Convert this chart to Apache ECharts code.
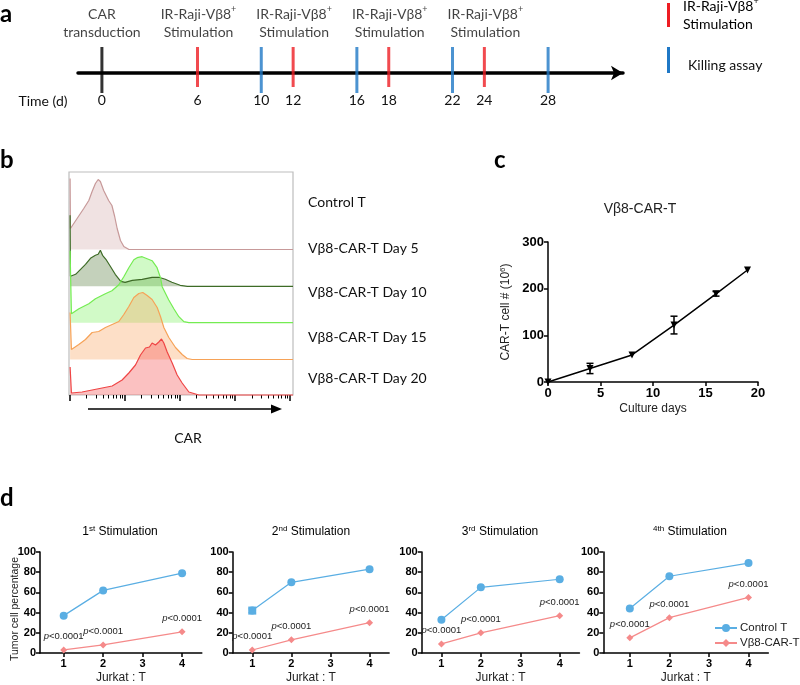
<!DOCTYPE html>
<html>
<head>
<meta charset="utf-8">
<script src="https://cdn.jsdelivr.net/npm/echarts@6/dist/echarts.min.js"></script>
<style>
html, body { margin: 0; padding: 0; background: #fff; }
#main { width: 800px; height: 685px; }
</style>
</head>
<body>
<div id="main"></div>
<script>
// panel a: timeline (days)
const timelineDays = [0, 6, 10, 12, 16, 18, 22, 24, 28]
const transductionDays = [0]
const stimulationDays = [6, 12, 18, 24]
const killingDays = [10, 16, 22, 28]

// panel b: CAR histograms, [log decade, height]
const histNames = ['Control T', 'Vβ8-CAR-T Day 5', 'Vβ8-CAR-T Day 10', 'Vβ8-CAR-T Day 15', 'Vβ8-CAR-T Day 20']
const histControl = [[0, 71], [0.006, 21], [0.127, 31], [0.248, 41], [0.34, 49], [0.4, 58], [0.46, 66], [0.51, 70], [0.55, 68], [0.61, 59], [0.7, 49], [0.76, 44], [0.81, 33], [0.855, 21], [0.915, 9], [0.976, 3], [1.07, 0], [4.05, 0]]
const histDay5 = [[0, 71], [0.006, 10], [0.1, 12], [0.19, 17], [0.28, 22], [0.37, 28], [0.46, 31], [0.51, 32], [0.55, 36], [0.59, 31], [0.65, 27], [0.73, 20], [0.82, 12], [0.92, 5], [1.0, 4], [1.13, 6], [1.31, 7], [1.49, 9], [1.61, 9], [1.73, 7], [1.85, 4], [2.0, 1], [2.13, 0], [4.05, 0]]
const histDay10 = [[0, 72], [0.024, 9], [0.16, 14], [0.34, 19], [0.46, 24], [0.64, 29], [0.76, 32], [0.885, 38], [0.976, 46], [1.067, 55], [1.158, 63], [1.218, 65], [1.309, 66], [1.4, 64], [1.49, 62], [1.58, 55], [1.642, 45], [1.673, 36], [1.7, 33], [1.79, 23], [1.885, 14], [1.976, 6], [2.067, 1], [2.158, 0], [4.05, 0]]
const histDay15 = [[0, 47], [0.024, 10], [0.158, 15], [0.279, 20], [0.4, 27], [0.52, 28], [0.642, 32], [0.764, 35], [0.885, 38], [0.976, 45], [1.067, 53], [1.158, 62], [1.248, 66], [1.321, 67], [1.4, 64], [1.49, 60], [1.582, 52], [1.642, 43], [1.703, 32], [1.794, 22], [1.915, 12], [2.036, 5], [2.127, 1], [2.218, 0], [4.05, 0]]
const histDay20 = [[0, 28], [0.024, 2], [0.218, 3], [0.4, 5], [0.582, 7], [0.764, 9], [0.945, 15], [1.067, 22], [1.188, 30], [1.279, 40], [1.37, 47], [1.442, 48], [1.49, 52], [1.552, 50], [1.612, 53], [1.661, 56], [1.703, 52], [1.764, 43], [1.855, 32], [1.945, 20], [2.036, 12], [2.158, 3], [2.279, 1], [2.339, 0], [4.05, 0]]
const decadeTicks = [0, 1, 2, 3, 4]
const minorMultipliers = [2, 3, 4, 5, 6, 7, 8, 9]

// panel c: expansion
const cultureDays = [0, 4, 8, 12, 16, 19]
const carTCells = [0, 29, 58, 122, 189, 240]
const carTErr = [0, 11, 0, 19, 5, 0]

// panel d: killing assay
const ratios = [1, 2, 4]
const ratioTicks = [1, 2, 3, 4]
const stimOrdinal = [['1', 'st'], ['2', 'nd'], ['3', 'rd'], ['', '4th']]
const controlT = [[37, 62, 79], [42, 70, 83], [33, 65, 73], [44, 76, 89]]
const controlErr = [[0, 0, 0], [2.5, 0, 0], [0, 0, 0], [0, 0, 0]]
const vb8CarT = [[3, 8, 21], [3, 13, 30], [9, 20, 37], [15, 35, 55]]
const pLabel = 'p<0.0001'

const LATO = 'Lato, "Open Sans", sans-serif'
const ARIAL = '"Liberation Sans", Arial, sans-serif'
const RED = '#ee1d23'
const BLUE = '#1f78c6'
const D_BLUE = '#5aaee3'
const D_RED = '#f58a8a'

const chart = echarts.init(document.getElementById('main'), null, { renderer: 'canvas' })

function errorBar(color, width, cap) {
    return function (params, api) {
        const x = api.value(0), y = api.value(1), e = api.value(2)
        const top = api.coord([x, y + e])
        const bot = api.coord([x, y - e])
        const style = { stroke: color, lineWidth: width }
        return {
            type: 'group',
            children: [
                { type: 'line', shape: { x1: top[0], y1: top[1], x2: bot[0], y2: bot[1] }, style },
                { type: 'line', shape: { x1: top[0] - cap, y1: top[1], x2: top[0] + cap, y2: top[1] }, style },
                { type: 'line', shape: { x1: bot[0] - cap, y1: bot[1], x2: bot[0] + cap, y2: bot[1] }, style },
            ],
        }
    }
}

const grid = []
const xAxis = []
const yAxis = []
const series = []
const graphic = []

// ---------- panel a ----------
// grid bottom is the time line
grid.push({ left: 78, top: 23, width: 545, height: 50 })
xAxis.push({
    gridIndex: 0, type: 'value', min: -1.5, max: 32.7, position: 'bottom',
    axisLine: { symbol: ['none', 'arrow'], symbolSize: [11, 12], lineStyle: { color: '#000', width: 3.5 } },
    axisTick: { show: false }, splitLine: { show: false },
    axisLabel: { customValues: timelineDays, margin: 20, fontSize: 14, fontFamily: LATO, color: '#111' },
})
yAxis.push({ gridIndex: 0, type: 'value', min: 0, max: 1, show: false })

const stimRich = {
    a: { fontSize: 14, fontFamily: LATO, color: '#111', lineHeight: 18 },
    s: { fontSize: 9, fontFamily: LATO, color: '#111', lineHeight: 10, verticalAlign: 'top' },
}
series.push({
    type: 'scatter', xAxisIndex: 0, yAxisIndex: 0, silent: true, z: 3,
    data: transductionDays.map(d => [d, 0]),
    symbol: 'rect', symbolSize: [3, 46], symbolOffset: [0, -3], itemStyle: { color: '#000' },
    label: { show: true, position: 'top', distance: 6, formatter: '{a|CAR}\n{a|transduction}', rich: stimRich },
})
series.push({
    type: 'scatter', xAxisIndex: 0, yAxisIndex: 0, silent: true, z: 3,
    data: stimulationDays.map(d => [d, 0]),
    symbol: 'rect', symbolSize: [3, 40], symbolOffset: [0, -6], itemStyle: { color: RED },
    label: { show: true, position: 'top', distance: 6, offset: [1, 0], formatter: '{a|IR-Raji-Vβ8}{s|+}\n{a|Stimulation}', rich: stimRich },
})
series.push({
    type: 'scatter', xAxisIndex: 0, yAxisIndex: 0, silent: true, z: 3,
    data: killingDays.map(d => [d, 0]),
    symbol: 'rect', symbolSize: [3, 46], symbolOffset: [0, -3], itemStyle: { color: BLUE },
})
graphic.push(
    { type: 'text', left: 0, top: 2, style: { text: 'a', font: 'bold 24px ' + LATO, fill: '#000' } },
    { type: 'text', x: 43, y: 101, style: { text: 'Time (d)', font: '14px ' + LATO, fill: '#111', align: 'center', verticalAlign: 'middle' } },
    { type: 'rect', shape: { x: 667, y: 3, width: 3, height: 24 }, style: { fill: RED } },
    { type: 'rect', shape: { x: 667, y: 47, width: 3, height: 26 }, style: { fill: BLUE } },
    { type: 'text', x: 683, y: 15, style: { text: '{a|IR-Raji-Vβ8}{s|+}\n{a|Stimulation}', rich: stimRich, verticalAlign: 'middle' } },
    { type: 'text', x: 688, y: 65, style: { text: 'Killing assay', font: '14px ' + LATO, fill: '#111', verticalAlign: 'middle' } }
)

// ---------- panel b ----------
const histLeft = 69, histWidth = 224, rowH = 36.4
const histBase = [249.5, 286.3, 322.7, 359.5, 395]
const histLabelY = [202, 248, 292, 337, 378]
const histData = [histControl, histDay5, histDay10, histDay15, histDay20]
const histLine = ['#c79999', '#3d6b26', '#74ec52', '#f6a257', '#ef4646']
const histFill = ['rgba(200,150,150,0.40)', 'rgba(70,110,40,0.45)', 'rgba(110,240,80,0.45)', 'rgba(250,165,95,0.50)', 'rgba(245,80,80,0.50)']

// frame with log ticks
grid.push({ left: histLeft, top: 172, width: histWidth, height: 223, show: true, borderColor: '#bdbdbd', borderWidth: 1.2 })
const frameIdx = grid.length - 1
const minorTicks = []
decadeTicks.slice(0, -1).forEach(d => minorMultipliers.forEach(m => minorTicks.push(d + Math.log10(m))))
xAxis.push({
    gridIndex: frameIdx, type: 'value', min: -0.02, max: 4.05, position: 'bottom',
    axisLine: { show: false }, axisLabel: { show: false }, splitLine: { show: false },
    axisTick: { show: true, customValues: decadeTicks, length: 6, lineStyle: { color: '#000', width: 1.5 } },
})
xAxis.push({
    gridIndex: frameIdx, type: 'value', min: -0.02, max: 4.05, position: 'bottom',
    axisLine: { show: false }, axisLabel: { show: false }, splitLine: { show: false },
    axisTick: { show: true, customValues: minorTicks, length: 3.5, lineStyle: { color: '#000', width: 1 } },
})
yAxis.push({ gridIndex: frameIdx, type: 'value', show: false })

histData.forEach((data, i) => {
    grid.push({ left: histLeft, top: histBase[i] - rowH, width: histWidth, height: rowH })
    const g = grid.length - 1
    xAxis.push({ gridIndex: g, type: 'value', min: -0.02, max: 4.05, show: false })
    yAxis.push({ gridIndex: g, type: 'value', min: 0, max: rowH, show: false })
    series.push({
        type: 'line', name: histNames[i], xAxisIndex: xAxis.length - 1, yAxisIndex: yAxis.length - 1,
        data, symbol: 'none', clip: false, silent: true,
        lineStyle: { color: histLine[i], width: 1.2 },
        areaStyle: { color: histFill[i], origin: 'start' },
    })
    graphic.push({ type: 'text', x: 308, y: histLabelY[i], style: { text: histNames[i], font: '14px ' + LATO, fill: '#111', verticalAlign: 'middle' } })
})
graphic.push(
    { type: 'text', left: 0, top: 148, style: { text: 'b', font: 'bold 24px ' + LATO, fill: '#000' } },
    { type: 'line', shape: { x1: 88, y1: 409, x2: 272, y2: 409 }, style: { stroke: '#000', lineWidth: 1.5 } },
    { type: 'polygon', shape: { points: [[271, 404.5], [282, 409], [271, 413.5]] }, style: { fill: '#000' } },
    { type: 'text', x: 188, y: 438, style: { text: 'CAR', font: '14px ' + LATO, fill: '#111', align: 'center', verticalAlign: 'middle' } }
)

// ---------- panel c ----------
grid.push({ left: 548, top: 242, width: 210, height: 140 })
const cIdx = grid.length - 1
const boldTick = { fontSize: 13, fontWeight: 'bold', fontFamily: ARIAL, color: '#000' }
xAxis.push({
    gridIndex: cIdx, type: 'value', min: 0, max: 20, interval: 5,
    axisLine: { lineStyle: { color: '#000', width: 1.5 } },
    axisTick: { length: 4, lineStyle: { color: '#000', width: 1.5 } },
    splitLine: { show: false },
    axisLabel: Object.assign({ margin: 5 }, boldTick),
    name: 'Culture days', nameLocation: 'middle', nameGap: 21,
    nameTextStyle: { fontSize: 12, fontFamily: ARIAL, color: '#222' },
})
yAxis.push({
    gridIndex: cIdx, type: 'value', min: 0, max: 300, interval: 100,
    axisLine: { show: true, lineStyle: { color: '#000', width: 1.5 } },
    axisTick: { show: true, length: 4, lineStyle: { color: '#000', width: 1.5 } },
    splitLine: { show: false },
    axisLabel: Object.assign({ margin: 4 }, boldTick),
    name: '{a|CAR-T cell # (10}{s|6}{a|)}', nameLocation: 'middle', nameGap: 35, nameRotate: 90,
    nameMoveOverlap: false,
    nameTextStyle: {
        rich: {
            a: { fontSize: 12, fontFamily: ARIAL, color: '#222', lineHeight: 14 },
            s: { fontSize: 8, fontFamily: ARIAL, color: '#222', lineHeight: 8, verticalAlign: 'top' },
        },
    },
})
series.push({
    type: 'line', xAxisIndex: xAxis.length - 1, yAxisIndex: yAxis.length - 1, silent: true,
    data: cultureDays.map((d, i) => [d, carTCells[i]]),
    symbol: 'triangle', symbolRotate: 180, symbolSize: 7,
    itemStyle: { color: '#000' }, lineStyle: { color: '#000', width: 1.5 },
})
series.push({
    type: 'custom', xAxisIndex: xAxis.length - 1, yAxisIndex: yAxis.length - 1, silent: true,
    data: cultureDays.map((d, i) => [d, carTCells[i], carTErr[i]]).filter(r => r[2] > 0),
    renderItem: errorBar('#000', 1.5, 3.5),
})
graphic.push(
    { type: 'text', left: 494, top: 148, style: { text: 'c', font: 'bold 24px ' + LATO, fill: '#000' } },
    { type: 'text', x: 640, y: 209, style: { text: 'Vβ8-CAR-T', font: '14px ' + ARIAL, fill: '#222', align: 'center', verticalAlign: 'middle' } }
)

// ---------- panel d ----------
const dLeft = [40, 232.7, 421.7, 603.3]
const dMin = [0.4, 0.5, 0.5, 0.33]
const dUnit = [39.47, 39.1, 39.43, 39.57]
const dTitleX = [120, 311, 500, 690]
const titleRich = {
    n: { fontSize: 12, fontFamily: ARIAL, color: '#222', lineHeight: 15 },
    s: { fontSize: 8, fontFamily: ARIAL, color: '#222', lineHeight: 8, verticalAlign: 'top' },
}
controlT.forEach((ctrl, i) => {
    grid.push({ left: dLeft[i], top: 552, width: (4.5 - dMin[i]) * dUnit[i], height: 104 })
    const g = grid.length - 1
    xAxis.push({
        gridIndex: g, type: 'value', min: dMin[i], max: 4.5,
        axisLine: { lineStyle: { color: '#000', width: 1.5 } },
        axisTick: { customValues: ratioTicks, length: 4, lineStyle: { color: '#000', width: 1.5 } },
        splitLine: { show: false },
        axisLabel: { customValues: ratioTicks, margin: 5, fontSize: 11, fontWeight: 'bold', fontFamily: ARIAL, color: '#000' },
        name: 'Jurkat : T', nameLocation: 'middle', nameGap: 19,
        nameTextStyle: { fontSize: 12, fontFamily: ARIAL, color: '#222' },
    })
    yAxis.push({
        gridIndex: g, type: 'value', min: 0, max: 100, interval: 20,
        axisLine: { show: true, lineStyle: { color: '#000', width: 1.5 } },
        axisTick: { show: true, length: 4, lineStyle: { color: '#000', width: 1.5 } },
        splitLine: { show: false },
        axisLabel: { margin: 4, fontSize: 11, fontWeight: 'bold', fontFamily: ARIAL, color: '#000' },
    })
    const xi = xAxis.length - 1, yi = yAxis.length - 1
    series.push({
        type: 'line', name: 'Control T', xAxisIndex: xi, yAxisIndex: yi, silent: true,
        data: ratios.map((r, k) => [r, ctrl[k]]),
        color: D_BLUE, symbol: 'circle', symbolSize: 8,
        itemStyle: { color: D_BLUE }, lineStyle: { color: D_BLUE, width: 1.2 },
    })
    series.push({
        type: 'custom', xAxisIndex: xi, yAxisIndex: yi, silent: true,
        data: ratios.map((r, k) => [r, ctrl[k], controlErr[i][k]]).filter(row => row[2] > 0),
        renderItem: errorBar(D_BLUE, 3, 4),
    })
    series.push({
        type: 'line', name: 'Vβ8-CAR-T', xAxisIndex: xi, yAxisIndex: yi, silent: true,
        data: ratios.map((r, k) => [r, vb8CarT[i][k]]),
        color: D_RED, symbol: 'diamond', symbolSize: 7,
        itemStyle: { color: D_RED }, lineStyle: { color: D_RED, width: 1.2 },
        label: {
            show: true, position: 'top', distance: 5,
            formatter: '{i|p}{t|' + pLabel.slice(1) + '}',
            rich: {
                i: { fontSize: 9.5, fontStyle: 'italic', fontFamily: ARIAL, color: '#222' },
                t: { fontSize: 9.5, fontFamily: ARIAL, color: '#222' },
            },
        },
    })
    const ord = stimOrdinal[i]
    graphic.push({
        type: 'text', x: dTitleX[i], y: 532,
        style: { text: (ord[0] ? '{n|' + ord[0] + '}' : '') + '{s|' + ord[1] + '}{n| Stimulation}', rich: titleRich, align: 'center', verticalAlign: 'middle' },
    })
})
graphic.push(
    { type: 'text', left: 0, top: 486, style: { text: 'd', font: 'bold 24px ' + LATO, fill: '#000' } },
    { type: 'text', x: 15, y: 609, rotation: Math.PI / 2, style: { text: 'Tumor cell percentage', font: '10.5px ' + ARIAL, fill: '#222', align: 'center', verticalAlign: 'middle' } }
)

chart.setOption({
    backgroundColor: '#fff',
    animation: false,
    grid, xAxis, yAxis, series, graphic,
    legend: {
        data: [
            { name: 'Control T', itemStyle: { color: D_BLUE }, lineStyle: { color: D_BLUE } },
            { name: 'Vβ8-CAR-T', itemStyle: { color: D_RED }, lineStyle: { color: D_RED } },
        ],
        orient: 'vertical', left: 709, top: 617,
        itemWidth: 22, itemHeight: 10, itemGap: 3,
        textStyle: { fontSize: 11.5, fontFamily: ARIAL, color: '#222', padding: [0, 0, 0, -2] },
    },
})
</script>
</body>
</html>
